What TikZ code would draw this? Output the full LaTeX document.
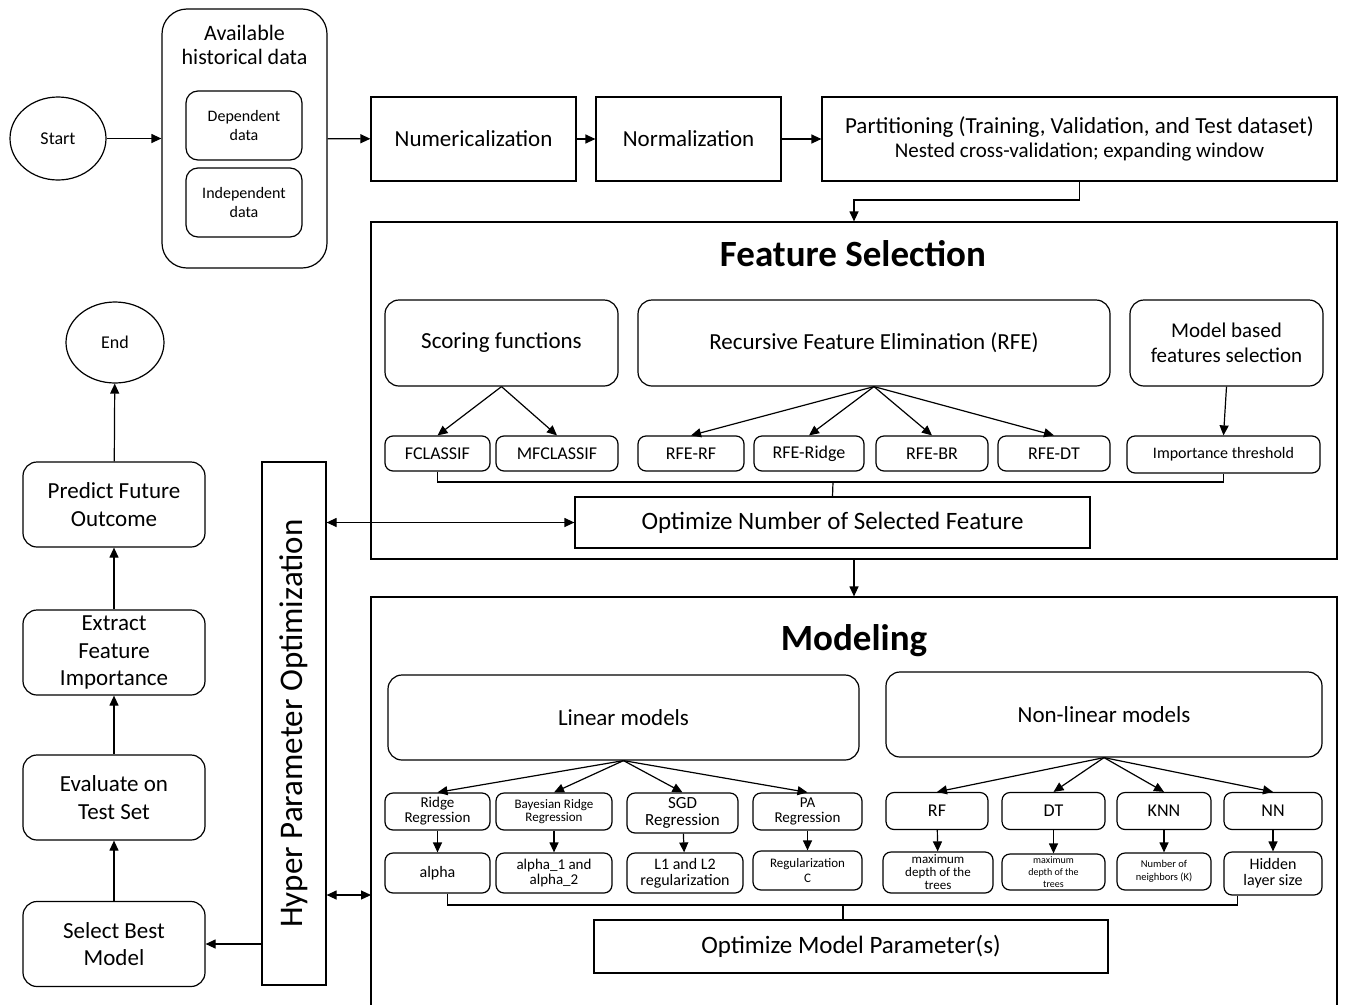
\documentclass[tikz,border=0pt]{standalone}
\usepackage{fontspec}
\setmainfont{Carlito}
\usetikzlibrary{arrows.meta}
\usetikzlibrary{shapes.geometric}
\usetikzlibrary{positioning}

\newcommand{\fsz}[1]{\fontsize{#1pt}{\dimexpr #1pt*6/5\relax}\selectfont}

\begin{document}
\begin{tikzpicture}[x=1pt, y=-1pt]

\tikzset{
    myarrow/.style={-{Triangle[length=10pt,width=9pt]}, line width=1.2pt},
    mydarrow/.style={{Triangle[length=10pt,width=9pt]}-{Triangle[length=10pt,width=9pt]}, line width=1.2pt},
    myline/.style={line width=1.2pt},
    sqbox/.style={draw, line width=1.2pt, align=center, inner sep=2pt},
    rbox/.style={sqbox, rounded corners=#1},
    rbox/.default=14pt,
    term/.style={draw, ellipse, line width=1.2pt, inner sep=0pt}
}

\useasboundingbox (0,0) rectangle (1346,1004);

%%%%%%%%%%%%%%%%%%%%%%%%%%%%%%%%%%%%%%%%%%%%%%%%%%%%%%%%%
%                       Begin Picture                   %
%%%%%%%%%%%%%%%%%%%%%%%%%%%%%%%%%%%%%%%%%%%%%%%%%%%%%%%%%

%start
\node[term, minimum width=96, minimum height=83, font=\fsz{18}] (start) at (58,138.5) {Start};

%available data
\node[rbox=25pt, minimum width=165, minimum height=259] (avail) at (244.5,138.5) {};
\node[align=center, font=\fsz{22}] (availtxt) at (244.5,45) {Available\\[-2pt]historical data};
\node[rbox=12pt, minimum width=116, minimum height=69, font=\fsz{16}] (dep) at (244,125.5) {Dependent\\data};
\node[rbox=12pt, minimum width=116, minimum height=69, font=\fsz{16}] (indep) at (244,202.5) {Independent\\data};
\draw[myarrow] (start) -- (avail);

%preprocessing
\node[sqbox, minimum width=205, minimum height=84, font=\fsz{23}] (num) at (473.5,139) {Numericalization};
\node[sqbox, minimum width=185, minimum height=84, font=\fsz{23}] (norm) at (688.5,139) {Normalization};
\node[sqbox, minimum width=515, minimum height=84, font=\fsz{23}] (part) at (1079.5,139)
    {Partitioning (Training, Validation, and Test dataset)\\[-3pt]{\fsz{21}Nested cross-validation; expanding window}};
\draw[myarrow] (avail) -- (num);
\draw[myarrow] (num) -- (norm);
\draw[myarrow] (norm) -- (part);

%feature selection
\node[sqbox, minimum width=966, minimum height=337] (fs) at (854,390.5) {};
\node[font=\bfseries\fsz{37}] (fstitle) at (853,254) {Feature Selection};
\coordinate (pbend) at (854,200);
\draw[myarrow] (part.south) |- (pbend) -- (fs.north);

\node[rbox, minimum width=233, minimum height=86, font=\fsz{23}] (sc) at (501.5,343) {Scoring functions};
\node[rbox, minimum width=472, minimum height=86, font=\fsz{23}] (rfe) at (874,343) {Recursive Feature Elimination (RFE)};
\node[rbox, minimum width=193, minimum height=86, font=\fsz{21}] (mb) at (1226.5,343) {Model based\\features selection};

\node[rbox=8pt, minimum width=105, minimum height=35, font=\fsz{18}] (fc) at (437.5,453.5) {FCLASSIF};
\node[rbox=8pt, minimum width=122, minimum height=35, font=\fsz{18}] (mfc) at (557,453.5) {MFCLASSIF};
\node[rbox=8pt, minimum width=106, minimum height=35, font=\fsz{18}] (rferf) at (691,453.5) {RFE-RF};
\node[rbox=8pt, minimum width=110, minimum height=35, font=\fsz{18}] (rferidge) at (809,453.5) {RFE-Ridge};
\node[rbox=8pt, minimum width=112, minimum height=35, font=\fsz{18}] (rfebr) at (932,453.5) {RFE-BR};
\node[rbox=8pt, minimum width=112, minimum height=35, font=\fsz{18}] (rfedt) at (1054,453.5) {RFE-DT};
\node[rbox=8pt, minimum width=193, minimum height=37, font=\fsz{16}] (imp) at (1223.5,454.5) {Importance threshold};

\draw[myarrow] (sc.south) -- (fc.north);
\draw[myarrow] (sc.south) -- (mfc.north);
\foreach \n in {rferf, rferidge, rfebr, rfedt}
    \draw[myarrow] (rfe.south) -- (\n.north);
\draw[myarrow] (mb.south) -- (imp.north);

\node[sqbox, minimum width=515, minimum height=51, font=\fsz{25}] (optf) at (832.5,522.5) {Optimize Number of Selected Feature};
\coordinate (fsbr) at (833,482);
\draw[myline] (fc.south) |- (fsbr) -| (imp.south);
\draw[myline] (fsbr) -- (optf.north);

%modeling
\node[sqbox, minimum width=966, minimum height=413] (mod) at (854,803.5) {};
\node[font=\bfseries\fsz{37}] (modtitle) at (854,641) {Modeling};
\draw[myarrow] (fs.south) -- (mod.north);

\node[rbox, minimum width=471, minimum height=85, font=\fsz{23}] (lin) at (623.5,717.5) {Linear models};
\node[rbox, minimum width=436, minimum height=85, font=\fsz{23}] (nlin) at (1104,714.5) {Non-linear models};

%linear branch
\node[rbox=8pt, minimum width=105, minimum height=37, font=\fsz{15}] (rr) at (437.5,811.5) {Ridge\\[-3pt]Regression};
\node[rbox=8pt, minimum width=116, minimum height=37, font=\fsz{13}] (brr) at (554,811.5) {Bayesian Ridge\\[-2pt]Regression};
\node[rbox=8pt, minimum width=111, minimum height=40, font=\fsz{17}] (sgd) at (682.5,813) {SGD\\[-4pt]Regression};
\node[rbox=8pt, minimum width=109, minimum height=37, font=\fsz{15}] (pa) at (807.5,811.5) {PA\\[-3pt]Regression};

\node[rbox=8pt, minimum width=105, minimum height=40, font=\fsz{16}] (alpha) at (437.5,873) {alpha};
\node[rbox=8pt, minimum width=116, minimum height=40, font=\fsz{15}] (a12) at (554,873) {alpha\_1 and\\[-3pt]alpha\_2};
\node[rbox=8pt, minimum width=116, minimum height=40, font=\fsz{16}] (l12) at (685,873) {L1 and L2\\[-3pt]regularization};
\node[rbox=8pt, minimum width=109, minimum height=39, font=\fsz{13}] (regc) at (807.5,870.5) {Regularization\\C};

\foreach \n in {rr, brr, sgd, pa}
    \draw[myarrow] (lin.south) -- (\n.north);
\draw[myarrow] (rr) -- (alpha);
\draw[myarrow] (brr) -- (a12);
\draw[myarrow] (sgd) -- (l12);
\draw[myarrow] (pa) -- (regc);

%non-linear branch
\node[rbox=8pt, minimum width=102, minimum height=37, font=\fsz{18}] (rf) at (937,811) {RF};
\node[rbox=8pt, minimum width=103, minimum height=37, font=\fsz{18}] (dt) at (1053.5,811) {DT};
\node[rbox=8pt, minimum width=94, minimum height=37, font=\fsz{18}] (knn) at (1164,811) {KNN};
\node[rbox=8pt, minimum width=98, minimum height=37, font=\fsz{18}] (nn) at (1273,811) {NN};

\node[rbox=8pt, minimum width=110, minimum height=41, inner sep=0pt, font=\fontsize{13pt}{13pt}\selectfont] (mdt1) at (938,872.5) {maximum\\depth of the\\trees};
\node[rbox=8pt, minimum width=103, minimum height=36, inner sep=0pt, font=\fontsize{10pt}{12pt}\selectfont] (mdt2) at (1053.5,872) {maximum\\depth of the\\trees};
\node[rbox=8pt, minimum width=94, minimum height=37, font=\fsz{10.5}] (nnb) at (1164,871.5) {Number of\\neighbors (K)};
\node[rbox=8pt, minimum width=98, minimum height=43, font=\fsz{16}] (hls) at (1273,873.5) {Hidden\\[-3pt]layer size};

\foreach \n in {rf, dt, knn, nn}
    \draw[myarrow] (nlin.south) -- (\n.north);
\draw[myarrow] (rf) -- (mdt1);
\draw[myarrow] (dt) -- (mdt2);
\draw[myarrow] (knn) -- (nnb);
\draw[myarrow] (nn) -- (hls);

\node[sqbox, minimum width=514, minimum height=53, font=\fsz{25}] (optm) at (851,946.5) {Optimize Model Parameter(s)};
\coordinate (mbr) at (843,905);
\draw[myline] ([xshift=10pt]alpha.south) |- (mbr) -| ([xshift=14pt]hls.south west);
\draw[myline] (mbr) -- (mbr |- optm.north);

%hyper parameter optimization
\node[sqbox, minimum width=64, minimum height=523] (hpo) at (294,723.5) {};
\node[rotate=90, font=\fsz{33}] (hpotxt) at (hpo.center) {Hyper Parameter Optimization};
\draw[mydarrow] (hpo.east |- optf.west) -- (optf.west);
\coordinate (modin) at (371,895);
\draw[mydarrow] (hpo.east |- modin) -- (modin);

%left column
\node[rbox, minimum width=182, minimum height=85, font=\fsz{23}] (sbm) at (114,944) {Select Best\\Model};
\node[rbox, minimum width=182, minimum height=85, font=\fsz{23}] (ets) at (114,797.5) {Evaluate on\\Test Set};
\node[rbox, minimum width=182, minimum height=85, font=\fsz{23}] (efi) at (114,652.5) {Extract\\Feature\\Importance};
\node[rbox, minimum width=182, minimum height=85, font=\fsz{23}] (pfo) at (114,504.5) {Predict Future\\Outcome};
\node[term, minimum width=98, minimum height=81, font=\fsz{18}] (endn) at (115,342.5) {End};

\draw[myarrow] (hpo.west |- sbm.east) -- (sbm.east);
\draw[myarrow] (sbm) -- (ets);
\draw[myarrow] (ets) -- (efi);
\draw[myarrow] (efi) -- (pfo);
\draw[myarrow] (pfo) -- (endn);

\end{tikzpicture}
\end{document}
